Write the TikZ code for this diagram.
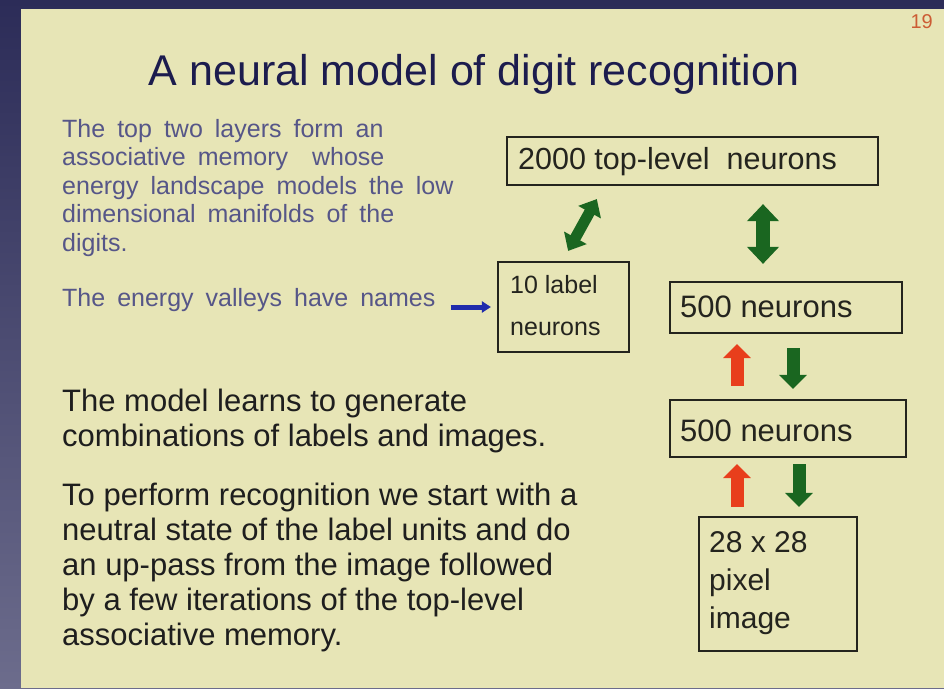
\documentclass[tikz,border=0pt]{standalone}
\usepackage{fontspec}
\setmainfont{Liberation Sans}
\usetikzlibrary{arrows.meta}

\definecolor{frametop}{RGB}{44,44,88}
\definecolor{framebot}{RGB}{108,108,140}
\definecolor{slidebg}{RGB}{231,229,182}
\definecolor{titleink}{RGB}{28,28,78}
\definecolor{noteink}{RGB}{86,86,136}
\definecolor{bodyink}{RGB}{30,30,30}
\definecolor{boxink}{RGB}{36,36,30}
\definecolor{upred}{RGB}{232,62,28}
\definecolor{downgreen}{RGB}{26,102,32}
\definecolor{pointblue}{RGB}{32,44,172}
\definecolor{pageno}{RGB}{204,92,52}

% left-aligned stack of lines whose baseline is the first line
\newcommand\txtlines[1]{\begin{tabular}[t]{@{}l@{}}#1\end{tabular}}
% note font: 25pt with wider word gaps
\newcommand\notefont{\fontsize{25}{28.5}\selectfont\spaceskip=12pt\relax}

\tikzset{
  txt/.style={inner sep=0pt, anchor=base west},
  layerbox/.style={draw=boxink, line width=2.2pt, inner sep=0pt},
  boxtext/.style={txt, text=boxink, font=\fontsize{31}{35}\selectfont},
  upflow/.style={draw=upred, line width=13pt,
    -{Triangle[width=27pt,length=14pt]}},
  downflow/.style={draw=downgreen, line width=13pt,
    -{Triangle[width=27pt,length=14pt]}},
}

\begin{document}
\begin{tikzpicture}[x=1pt,y=-1pt]
\useasboundingbox (0,0) rectangle (944,688);

% frame and slide
\shade[top color=frametop, bottom color=framebot] (0,0) rectangle (944,688);
\fill[slidebg] (21,9) rectangle (944,688);

% page number and title
\node[txt, anchor=base east, text=pageno, font=\fontsize{20}{24}\selectfont]
  (pno) at (933,28) {19};
\node[inner sep=0pt, anchor=base, text=titleink, font=\fontsize{43}{50}\selectfont]
  (title) at (474,85) {A neural model of digit recognition};

% notes on the left
\node[txt, text=noteink, font=\notefont]
  (memo) at (62,137) {\txtlines{The top two layers form an\\
    associative memory\ \ whose\\
    energy landscape models the low\\
    dimensional manifolds of the\\
    digits.}};
\node[txt, text=noteink, font=\notefont]
  (valleys) at (62,306) {The energy valleys have names};

\node[txt, text=bodyink, font=\fontsize{31}{35}\selectfont]
  (learn) at (62,411) {\txtlines{The model learns to generate\\
    combinations of labels and images.}};
\node[txt, text=bodyink, font=\fontsize{31}{35}\selectfont]
  (recog) at (62,505) {\txtlines{To perform recognition we start with a\\
    neutral state of the label units and do\\
    an up-pass from the image followed\\
    by a few iterations of the top-level\\
    associative memory.}};

% layers
\node[layerbox, minimum width=371pt, minimum height=48pt] (top) at (692.5,161) {};
\node[layerbox, minimum width=131pt, minimum height=90pt] (label) at (563.5,307) {};
\node[layerbox, minimum width=232pt, minimum height=51pt] (hidA) at (786,307.5) {};
\node[layerbox, minimum width=236pt, minimum height=57pt] (hidB) at (788,428.5) {};
\node[layerbox, minimum width=158pt, minimum height=134pt] (pix) at (778,584) {};

\node[boxtext, font=\fontsize{30.5}{35}\selectfont] (topT) at (518,169)
  {2000 top-level\ \ neurons};
\node[boxtext, font=\fontsize{25}{42}\selectfont] (labelT) at (510,293)
  {\txtlines{10 label\\neurons}};
\node[boxtext] (hidAT) at (680,317) {500 neurons};
\node[boxtext] (hidBT) at (680,441) {500 neurons};
\node[boxtext, font=\fontsize{30}{38}\selectfont] (pixT) at (709,552)
  {\txtlines{28 x 28\\pixel\\image}};

% connections
\draw[draw=downgreen, line width=11pt,
      {Triangle[width=25pt,length=15pt]}-{Triangle[width=25pt,length=15pt]},
      shorten <=14.8pt, shorten >=11.4pt]
  ([xshift=-88.5pt]top.south) -- ([xshift=-0.9pt]label.north);
\draw[draw=downgreen, line width=14pt,
      {Triangle[width=31pt,length=17pt]}-{Triangle[width=31pt,length=17pt]},
      shorten <=18pt, shorten >=17pt]
  ([xshift=70.5pt]top.south) -- ([xshift=-23pt]hidA.north);

\draw[upflow, shorten <=13pt, shorten >=10pt]
  ([xshift=-51pt]hidB.north) -- ([xshift=-49pt]hidA.south);
\draw[downflow, shorten <=14pt, shorten >=10pt]
  ([xshift=7pt]hidA.south) -- ([xshift=5pt]hidB.north);
\draw[upflow, shorten <=9pt, shorten >=6pt]
  ([xshift=-41pt]pix.north) -- ([xshift=-51pt]hidB.south);
\draw[downflow, shorten <=6pt, shorten >=9pt]
  ([xshift=11pt]hidB.south) -- ([xshift=21pt]pix.north);

\draw[draw=pointblue, line width=5pt, -{Triangle[width=11pt,length=9pt]},
      shorten <=15pt, shorten >=6pt]
  (valleys.east |- label.west) -- (label.west);
\end{tikzpicture}
\end{document}
